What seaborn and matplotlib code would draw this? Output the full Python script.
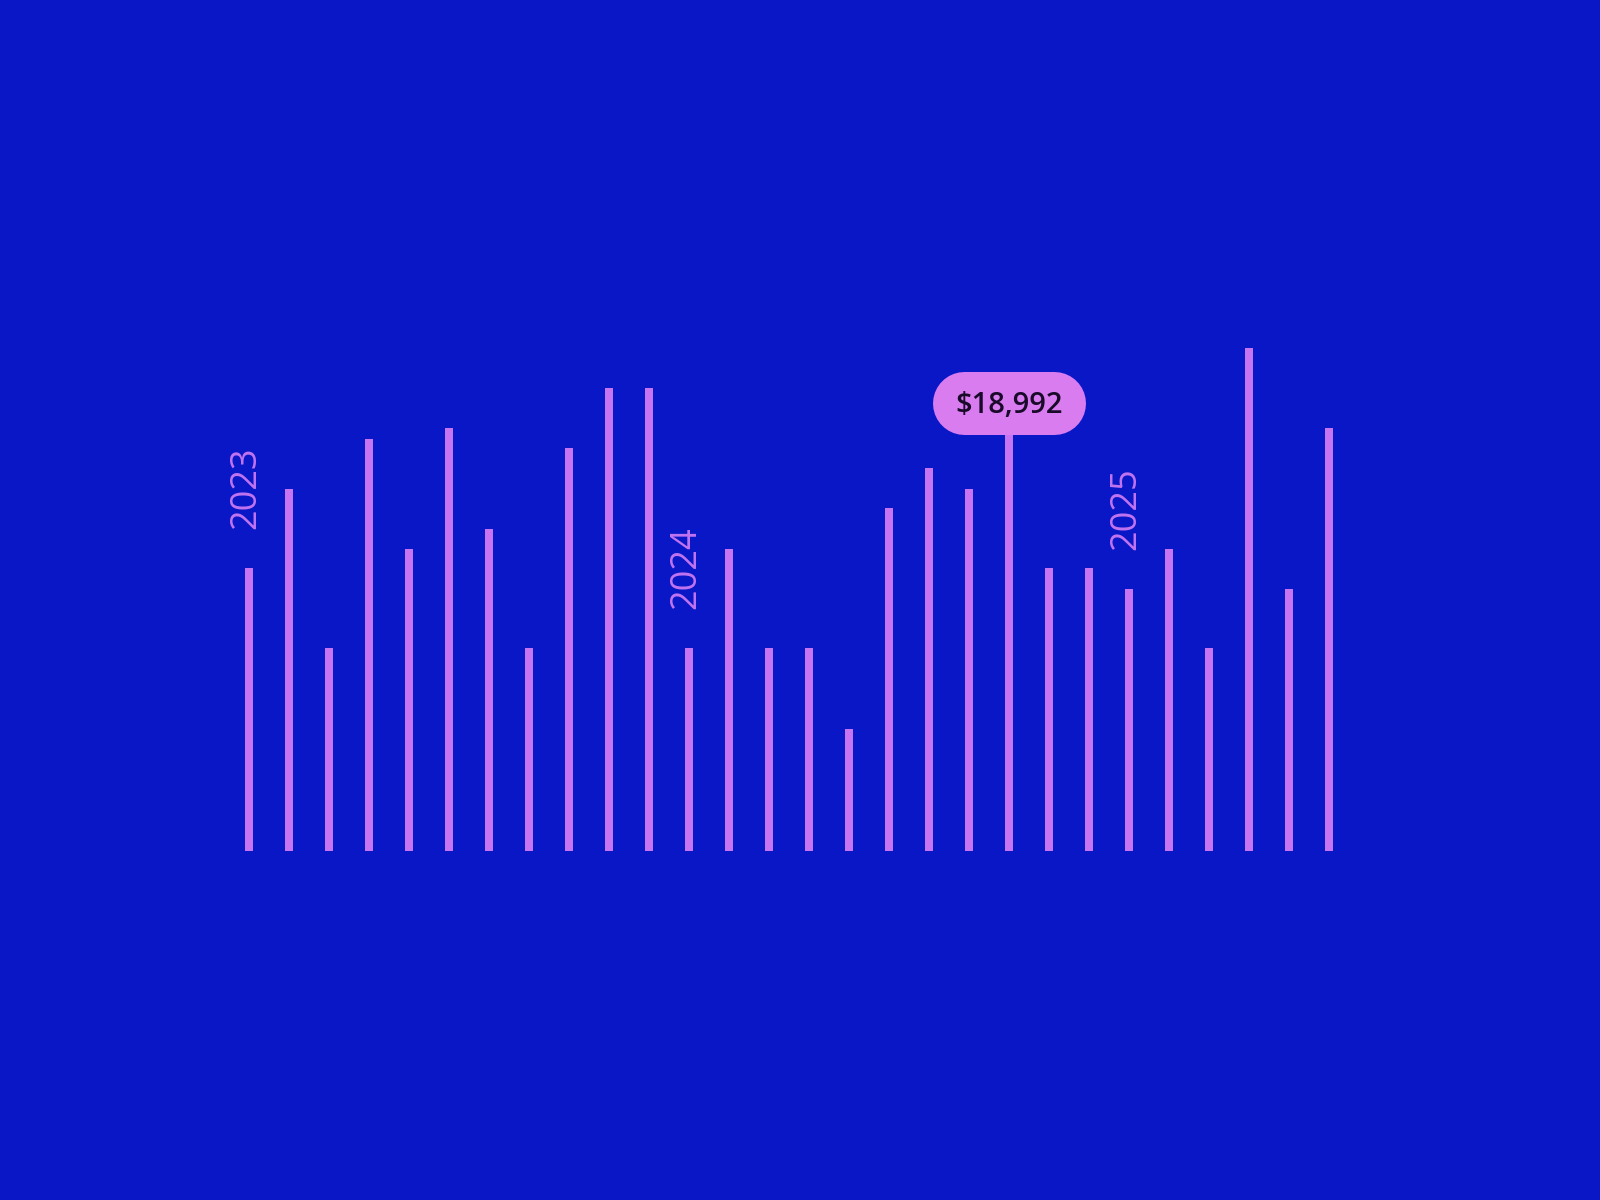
import matplotlib
matplotlib.use("Agg")
import matplotlib.pyplot as plt
import matplotlib.transforms as mtransforms
import seaborn as sns
import pandas as pd

# monthly revenue
months = list(range(28))
revenue = [12706, 16284, 9128, 18532, 13578, 18992, 14495, 9128, 18119, 20826,
           20826, 9128, 13578, 9128, 9128, 5505, 15413, 17202, 16284, 18992,
           12706, 12706, 11789, 13578, 9128, 22615, 11789, 18992]
year_labels = ["2023", "2024", "2025"]
year_starts = [0, 11, 22]
highlight = 19
highlight_text = "$18,992"

bg = "#0a17c6"
bar_color = "#c874f2"
pill_color = "#d97cf0"

sns.set_theme(style="white")
plt.rcParams['font.family'] = ['Open Sans', 'DejaVu Sans']

df = pd.DataFrame({"month": months, "revenue": revenue})

fig = plt.figure(figsize=(16, 12), dpi=100, facecolor=bg)
ax = fig.add_axes([0, 0, 1, 1])
ax.set_facecolor(bg)

sns.barplot(data=df, x="month", y="revenue", color=bar_color, width=0.2,
            saturation=1, ax=ax, order=months, edgecolor="none", linewidth=0)

# map index -> pixel: first bar at x=249, 40px apart; baseline at y=851
x0 = -249 / 40
ax.set_xlim(x0, x0 + 1600 / 40)
per_px = 18992 / 422.5
ax.set_ylim(-349 * per_px, (1200 - 349) * per_px)
ax.axis("off")

# highlighted bar reaches up into the pill
ax.vlines(highlight, 0, revenue[highlight] + 10 * per_px, color=bar_color, lw=8 * 0.72)

# pill tooltip: a fat line with round caps, in pixels
px = mtransforms.IdentityTransform()
bx, by = ax.transData.transform((highlight, revenue[highlight]))
cy = by + 25.5
ax.plot([bx - 45, bx + 45], [cy, cy], color=pill_color, lw=63 * 0.72,
        solid_capstyle="round", transform=px, zorder=5)
ax.text(bx, cy - 3, highlight_text, ha="center", va="center", fontsize=21,
        fontweight="semibold", color="#1a0a2a", zorder=6, transform=px)

# year markers above the first bar of each year
for lab, i in zip(year_labels, year_starts):
    ax.annotate(lab, (i, revenue[i]), xytext=(-2, 28), textcoords="offset points",
                rotation=90, ha="center", va="bottom", fontsize=26,
                color="#c274f0")

fig.savefig("out.png", dpi=100, facecolor=bg)
